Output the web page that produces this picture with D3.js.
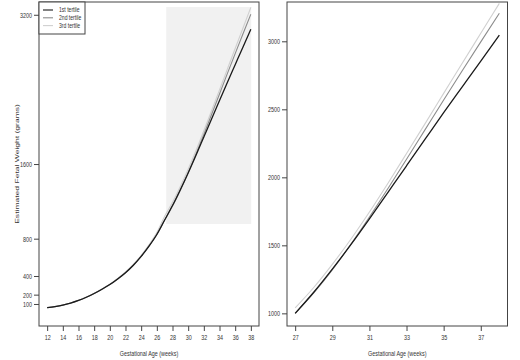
<!DOCTYPE html>
<html>
<head>
<meta charset="utf-8">
<script src="https://cdn.jsdelivr.net/npm/d3@7"></script>
<style>
  body { margin: 0; background: #fff; }
  svg { display: block; font-family: "Liberation Sans", Arial, sans-serif; }
</style>
</head>
<body>
<svg id="chart" width="520" height="360"></svg>
<script>
// ---- data ----
const weeks = [12,13,14,15,16,17,18,19,20,21,22,23,24,25,26,27,28,29,30,31,32,33,34,35,36,37,38];
const tertile1 = [60,72,88,110,138,172,212,258,308,368,435,515,610,720,845,1000,1155,1325,1505,1695,1890,2085,2280,2475,2665,2855,3046];
const tertile2 = [60,72,88,110,138,172,212,258,308,368,435,515,610,720,845,1000,1150,1320,1508,1708,1918,2133,2351,2569,2784,2996,3206];
const tertile3 = [61,73,89,111,139,174,215,262,313,374,443,524,622,735,865,1040,1190,1360,1545,1745,1957,2175,2395,2617,2839,3059,3279];
const seriesNames = ["1st tertile","2nd tertile","3rd tertile"];
const seriesColors = ["#1a1a1a","#8c8c8c","#d0d0d0"];
const leftXTicks = [12,14,16,18,20,22,24,26,28,30,32,34,36,38];
const leftYTicks = [100,200,400,800,1600,3200];
const rightXTicks = [27,29,31,33,35,37];
const rightYTicks = [1000,1500,2000,2500,3000];
const zoomWeeks = [27.2, 38.05];
const zoomWeights = [957, 3283];
const xTitle = "Gestational Age (weeks)";
const yTitle = "Estimated Fetal Weight (grams)";

const series = [tertile1, tertile2, tertile3].map((vals, i) => ({
  name: seriesNames[i], color: seriesColors[i],
  pts: weeks.map((w, j) => ({w, v: vals[j]}))
}));

const FS = 7, SX = 0.77, SY = 1.05, SYR = 1.22;
const svg = d3.select("#chart");

function label(g, x, y, str, anchor, rot, fs) {
  const tr = rot ? `translate(${x},${y}) rotate(-90) scale(${SYR},${SX})`
                 : `translate(${x},${y}) scale(${SX},${SY})`;
  return g.append("text").attr("transform", tr).attr("text-anchor", anchor)
    .attr("font-size", fs || FS).attr("fill", "#333").text(str);
}

function panel(opts) {
  const {x, y, xTicks, yTicks, minWeek, shade, legend, ylab} = opts;
  const g = svg.append("g");
  const [x0, x1] = x.range();
  const [y0, y1] = y.range();

  if (shade) {
    g.append("rect")
      .attr("x", x(zoomWeeks[0])).attr("y", y(zoomWeights[1]))
      .attr("width", x(zoomWeeks[1]) - x(zoomWeeks[0]))
      .attr("height", y(zoomWeights[0]) - y(zoomWeights[1]))
      .attr("fill", "#f1f1f1");
  }

  const line = d3.line().x(d => x(d.w)).y(d => y(d.v)).curve(d3.curveMonotoneX);
  [2,1,0].forEach(i => {
    const s = series[i];
    g.append("path")
      .datum(s.pts.filter(p => p.w >= minWeek))
      .attr("fill", "none")
      .attr("stroke", s.color)
      .attr("stroke-width", i === 0 ? 1.3 : 1.1)
      .attr("d", line);
  });

  g.append("rect").attr("x", x0).attr("y", y1)
    .attr("width", x1 - x0).attr("height", y0 - y1)
    .attr("fill", "none").attr("stroke", "#444").attr("stroke-width", 1);

  const xa = g.append("g").attr("transform", `translate(0,${y0})`)
    .call(d3.axisBottom(x).tickValues(xTicks).tickSize(5).tickPadding(3).tickFormat(d3.format("d")));
  xa.select(".domain").remove();
  xa.selectAll("line").attr("stroke", "#444");
  xa.selectAll("text").attr("y", null).attr("dy", "0.71em")
    .attr("transform", `translate(0,9) scale(${SX},${SY})`)
    .attr("font-size", FS).attr("fill", "#333");

  const ya = g.append("g").attr("transform", `translate(${x0},0)`)
    .call(d3.axisLeft(y).tickValues(yTicks).tickSize(5).tickPadding(2).tickFormat(d3.format("d")));
  ya.select(".domain").remove();
  ya.selectAll("line").attr("stroke", "#444");
  ya.selectAll("text").attr("x", null).attr("dy", "0.32em")
    .attr("transform", `translate(-7,0) scale(${SX},${SY})`)
    .attr("font-size", FS).attr("fill", "#333");

  label(g, (x0 + x1) / 2, 355.5, xTitle, "middle", false);

  if (ylab) {
    label(g, 19, (y0 + y1) / 2, ylab, "middle", true);
  }

  if (legend) {
    const lg = g.append("g");
    lg.append("rect").attr("x", x0).attr("y", y1).attr("width", 46).attr("height", 32)
      .attr("fill", "#fff").attr("stroke", "#444").attr("stroke-width", 1);
    series.forEach((s, i) => {
      const yy = y1 + 8 + i * 7.8;
      lg.append("line").attr("x1", x0 + 4).attr("x2", x0 + 14).attr("y1", yy).attr("y2", yy)
        .attr("stroke", s.color).attr("stroke-width", 1.1);
      label(lg, x0 + 20, yy + 2.4, s.name, "start", false, 6.6);
    });
  }
}

panel({
  x: d3.scaleLinear().domain([10.96, 39.04]).range([39, 259]),
  y: d3.scaleLinear().domain([-136, 3337]).range([326, 2]),
  xTicks: leftXTicks, yTicks: leftYTicks, minWeek: 0, shade: true, legend: true, ylab: yTitle
});
panel({
  x: d3.scaleLinear().domain([26.56, 38.44]).range([287, 507.5]),
  y: d3.scaleLinear().domain([907, 3289]).range([326, 2]),
  xTicks: rightXTicks, yTicks: rightYTicks, minWeek: 27, shade: false, legend: false, ylab: null
});
</script>
</body>
</html>
